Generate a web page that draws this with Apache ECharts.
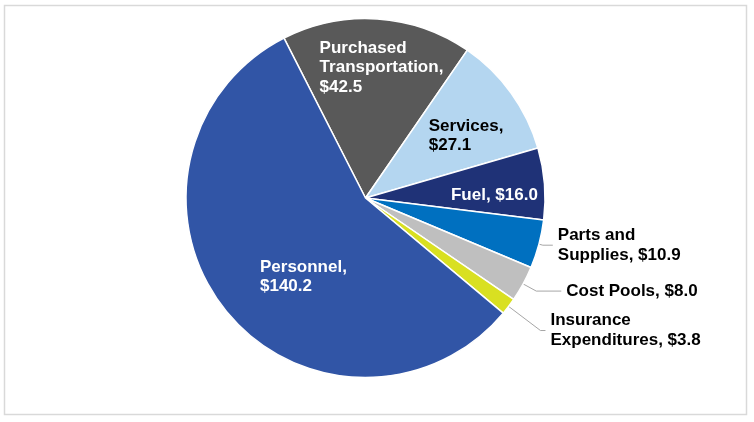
<!DOCTYPE html>
<html>
<head>
<meta charset="utf-8">
<script src="https://cdn.jsdelivr.net/npm/echarts@6/dist/echarts.min.js"></script>
<style>
html,body{margin:0;padding:0;background:#fff;}
#chart{width:754px;height:422px;}
</style>
</head>
<body>
<div id="chart"></div>
<script>
const categories = ['Purchased\nTransportation', 'Services', 'Fuel', 'Parts and\nSupplies', 'Cost Pools', 'Insurance\nExpenditures', 'Personnel'];
const values = [42.5, 27.1, 16.0, 10.9, 8.0, 3.8, 140.2];
const valueSeparators = ['\n', '\n', ' ', ' ', ' ', ' ', '\n'];
const colors = ['#595959', '#B4D6F0', '#1F3277', '#0070C0', '#BFBFBF', '#D9E021', '#3155A6'];
const labelColors = ['#ffffff', '#000000', '#ffffff', '#000000', '#000000', '#000000', '#ffffff'];
const labelPos = ['inside', 'inside', 'inside', 'outside', 'outside', 'outside', 'inside'];
const labelShifts = [[-52, -38], [-12, -8], [-7, 5], null, null, null, [-33, 21]];
const lineLen = [0, 0, 0, 4, 15, 40, 0];
const lineLen2 = [0, 0, 0, 10, 25, 5, 0];

const data = categories.map((c, i) => ({
  name: c,
  value: values[i],
  itemStyle: { color: colors[i] },
  label: {
    position: labelPos[i],
    color: labelColors[i]
  },
  labelLine: { show: labelPos[i] === 'outside', length: lineLen[i], length2: lineLen2[i] }
}));

const chart = echarts.init(document.getElementById('chart'));
chart.setOption({
  animation: false,
  backgroundColor: '#ffffff',
  graphic: [{
    type: 'rect',
    shape: { x: 4.5, y: 5.5, width: 742, height: 409 },
    style: { fill: 'none', stroke: '#d9d9d9', lineWidth: 1.5 },
    silent: true
  }],
  series: [{
    type: 'pie',
    center: [365.5, 198],
    radius: [0, 179.5],
    startAngle: 117,
    clockwise: true,
    avoidLabelOverlap: false,
    itemStyle: { borderColor: '#ffffff', borderWidth: 1.5 },
    label: {
      show: true,
      fontFamily: 'Liberation Sans, Arial, sans-serif',
      fontWeight: 'bold',
      fontSize: 17,
      lineHeight: 19.5,
      formatter: function (p) {
        return p.name + ',' + valueSeparators[p.dataIndex] + '$' + p.value.toFixed(1);
      },
      distanceToLabelLine: 5
    },
    labelLayout: function (p) {
      const s = labelShifts[p.dataIndex];
      if (!s) return {};
      return { align: 'left', dx: s[0], dy: s[1] };
    },
    labelLine: {
      lineStyle: { color: '#a6a6a6', width: 1 }
    },
    data: data
  }]
});
</script>
</body>
</html>
